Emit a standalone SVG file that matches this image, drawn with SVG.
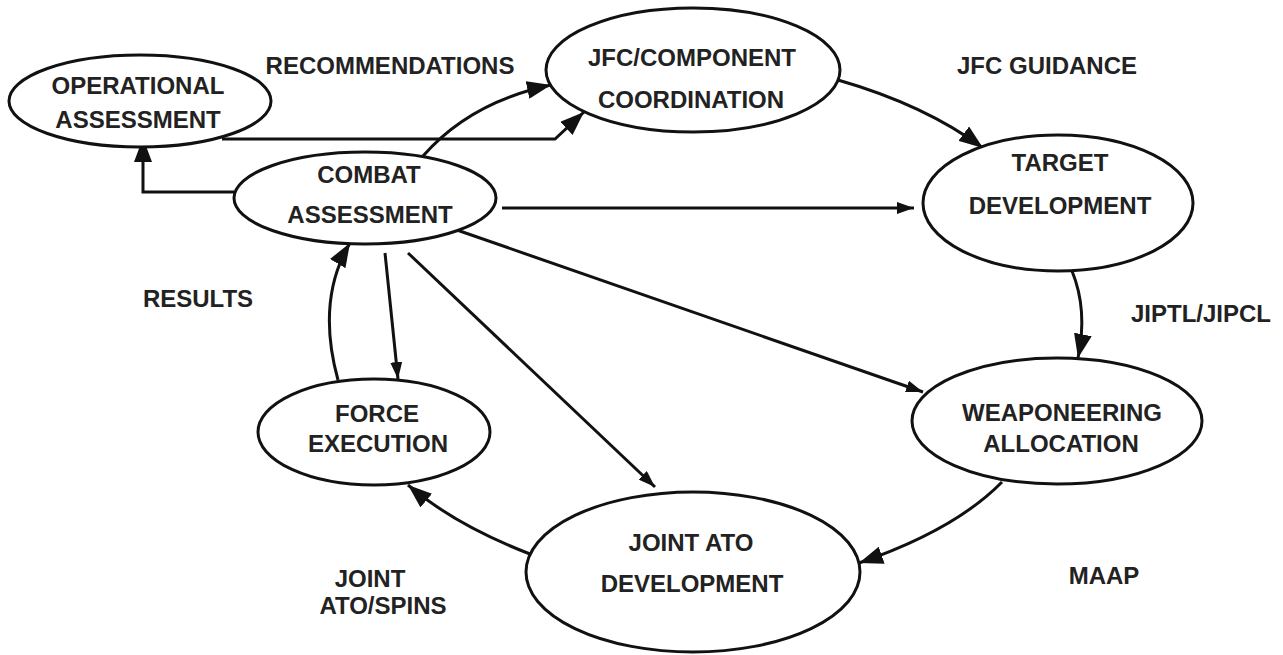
<svg xmlns="http://www.w3.org/2000/svg" width="1283" height="655" viewBox="0 0 1283 655">
  <style>
    .node ellipse { fill: #ffffff; stroke: #111111; stroke-width: 3; }
    .node text, .label { font-family: "Liberation Sans", Arial, sans-serif; font-weight: bold; font-size: 24px; fill: #222222; text-anchor: middle; }
    .edge { fill: none; stroke: #111111; stroke-width: 3; }
    .big { marker-end: url(#arrowBig); }
    .small { marker-end: url(#arrowSmall); }
  </style>
  <defs>
    <marker id="arrowBig" markerUnits="userSpaceOnUse" viewBox="0 0 24 18" refX="24" refY="9" markerWidth="24" markerHeight="18" orient="auto">
      <path d="M0,0 L24,9 L0,18 z" fill="#111111"/>
    </marker>
    <marker id="arrowSmall" markerUnits="userSpaceOnUse" viewBox="0 0 17 12" refX="17" refY="6" markerWidth="17" markerHeight="12" orient="auto">
      <path d="M0,0 L17,6 L0,12 z" fill="#111111"/>
    </marker>
  </defs>
  <rect width="1283" height="655" fill="#ffffff"/>

  <!-- connectors -->
  <g id="connectors">
    <path class="edge big" d="M234,192 L143,192 L143,138"/>
    <path class="edge big" d="M222,139 L555,139 L584,112"/>
    <path class="edge big" d="M423,156 Q470,102 551,85"/>
    <path class="edge big" d="M838,80 Q925,105 983,148"/>
    <path class="edge small" d="M502,208 L914,208"/>
    <path class="edge big" d="M1072,271 Q1088,310 1078,358"/>
    <path class="edge small" d="M454,229 L923,392"/>
    <path class="edge big" d="M1002,482 Q955,530 859,563"/>
    <path class="edge big" d="M530,554 Q455,525 408,485"/>
    <path class="edge small" d="M408,253 L655,487"/>
    <path class="edge small" d="M385,253 L398,379"/>
    <path class="edge big" d="M338,380 Q316,300 350,243"/>
  </g>

  <!-- nodes -->
  <g id="operational-assessment" class="node">
    <ellipse cx="140" cy="101" rx="131" ry="46"/>
    <text x="138" y="94">OPERATIONAL</text>
    <text x="138" y="128">ASSESSMENT</text>
  </g>
  <g id="combat-assessment" class="node">
    <ellipse cx="365" cy="198" rx="131" ry="46"/>
    <text x="369" y="183">COMBAT</text>
    <text x="370" y="223">ASSESSMENT</text>
  </g>
  <g id="jfc-component-coordination" class="node">
    <ellipse cx="693" cy="70" rx="147" ry="62"/>
    <text x="692" y="66">JFC/COMPONENT</text>
    <text x="691" y="108">COORDINATION</text>
  </g>
  <g id="target-development" class="node">
    <ellipse cx="1058" cy="203" rx="135" ry="68"/>
    <text x="1060" y="171">TARGET</text>
    <text x="1060" y="214">DEVELOPMENT</text>
  </g>
  <g id="weaponeering-allocation" class="node">
    <ellipse cx="1057" cy="421" rx="145" ry="63"/>
    <text x="1062" y="421">WEAPONEERING</text>
    <text x="1061" y="452">ALLOCATION</text>
  </g>
  <g id="force-execution" class="node">
    <ellipse cx="374" cy="432" rx="116" ry="53"/>
    <text x="377" y="422">FORCE</text>
    <text x="378" y="452">EXECUTION</text>
  </g>
  <g id="joint-ato-development" class="node">
    <ellipse cx="693" cy="572" rx="167" ry="80"/>
    <text x="691" y="551">JOINT ATO</text>
    <text x="692" y="592">DEVELOPMENT</text>
  </g>

  <!-- connector labels -->
  <g id="labels">
    <text class="label" x="390" y="74">RECOMMENDATIONS</text>
    <text class="label" x="1047" y="74">JFC GUIDANCE</text>
    <text class="label" x="1201" y="322">JIPTL/JIPCL</text>
    <text class="label" x="198" y="307">RESULTS</text>
    <text class="label" x="1104" y="584">MAAP</text>
    <text class="label" x="370" y="587">JOINT</text>
    <text class="label" x="383" y="614">ATO/SPINS</text>
  </g>
</svg>
